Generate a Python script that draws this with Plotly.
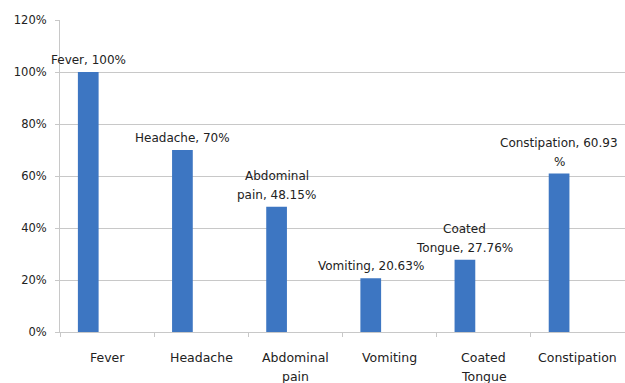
import plotly.graph_objects as go

# Symptom frequencies (percent of patients)
categories = ["Fever", "Headache", "Abdominal pain", "Vomiting", "Coated Tongue", "Constipation"]
category_lines = [["Fever"], ["Headache"], ["Abdominal", "pain"], ["Vomiting"], ["Coated", "Tongue"], ["Constipation"]]
values = [100, 70, 48.15, 20.63, 27.76, 60.93]
value_label_lines = [["Fever, 100%"], ["Headache, 70%"], ["Abdominal", "pain, 48.15%"],
                     ["Vomiting, 20.63%"], ["Coated", "Tongue, 27.76%"], ["Constipation, 60.93", "%"]]
y_ticks = [0, 20, 40, 60, 80, 100, 120]
y_tick_labels = ["0%", "20%", "40%", "60%", "80%", "100%", "120%"]

bar_color = "#3d76c2"
text_color = "#222222"
font_family = "DejaVu Sans"

bar_width = 0.22
bar_shift = -0.2          # bars sit left of the category centre
margin_l, margin_r = 60, 0
plot_w = 625 - margin_l - margin_r
px_per_cat = plot_w / len(categories)
line_gap = 19             # vertical spacing between wrapped text lines (px)

fig = go.Figure(
    go.Bar(
        x=categories,
        y=values,
        marker=dict(color=bar_color, line=dict(width=0)),
        width=bar_width,
        offset=bar_shift - bar_width / 2,
    )
)

# Data labels above each bar: category name and value
for cat, val, lines in zip(categories, values, value_label_lines):
    n = len(lines)
    for k, line in enumerate(lines):
        fig.add_annotation(
            x=cat, y=val, text=line, showarrow=False,
            yanchor="bottom", xanchor="center",
            xshift=bar_shift * px_per_cat, yshift=3 + (n - 1 - k) * line_gap,
            font=dict(family=font_family, size=12, color=text_color),
        )

# Category labels under the axis
for cat, lines in zip(categories, category_lines):
    for k, line in enumerate(lines):
        fig.add_annotation(
            x=cat, y=0, yref="y", text=line, showarrow=False,
            yanchor="middle", xanchor="center",
            yshift=-25 - k * line_gap,
            font=dict(family=font_family, size=12.5, color=text_color),
        )

fig.update_layout(
    width=625, height=383,
    margin=dict(l=margin_l, r=margin_r, t=20, b=51),
    paper_bgcolor="white", plot_bgcolor="white",
    showlegend=False,
    font=dict(family=font_family, size=12, color=text_color),
)
fig.update_yaxes(
    range=[0, 120], tickvals=y_ticks, ticktext=y_tick_labels,
    showgrid=True, gridcolor="#c8c8c8", gridwidth=1,
    showline=True, linecolor="#c8c8c8", zeroline=False,
    ticks="outside", ticklen=4, tickcolor="#c8c8c8",
    ticklabelstandoff=6,
    tickfont=dict(family=font_family, size=11.5, color=text_color),
)
fig.update_xaxes(
    type="category", range=[-0.5, len(categories) - 0.5],
    showline=True, linecolor="#c8c8c8",
    ticks="outside", ticklen=4, tickcolor="#c8c8c8", tickson="boundaries",
    showticklabels=False,
)

fig.write_html("out.html")
